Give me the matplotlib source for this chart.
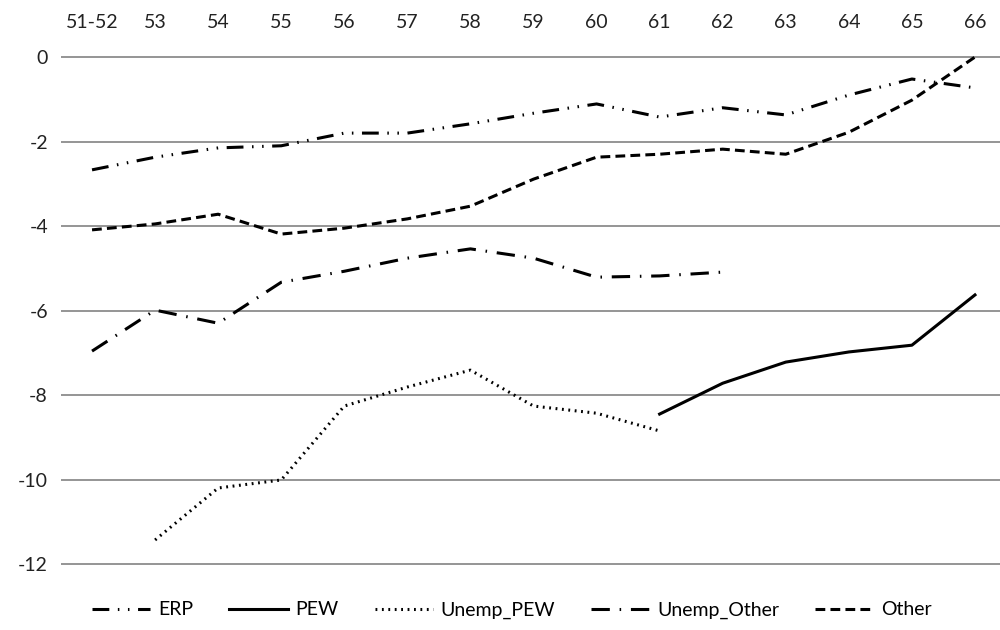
import numpy as np
import matplotlib
matplotlib.use("Agg")
import matplotlib.pyplot as plt

plt.rcParams["font.family"] = ["Lato", "DejaVu Sans"]

years = ["51-52", "53", "54", "55", "56", "57", "58", "59", "60", "61", "62", "63", "64", "65", "66"]

erp = [-2.67, -2.37, -2.15, -2.10, -1.80, -1.80, -1.58, -1.33, -1.11, -1.42, -1.20, -1.37, -0.90, -0.52, -0.73]
other = [-4.09, -3.95, -3.72, -4.19, -4.05, -3.83, -3.53, -2.89, -2.37, -2.30, -2.18, -2.30, -1.78, -1.02, 0.0]
unemp_other = [-6.96, -5.99, -6.30, -5.33, -5.07, -4.76, -4.54, -4.76, -5.21, -5.18, -5.09,
               None, None, None, None]
unemp_pew = [None, -11.43, -10.20, -10.01, -8.26, -7.81, -7.41, -8.26, -8.43, -8.85,
             None, None, None, None, None]
pew = [None, None, None, None, None, None, None, None, None, -8.45, -7.72, -7.22, -6.98, -6.82, -5.63]


def as_array(vals):
    return np.array([np.nan if v is None else v for v in vals], dtype=float)


fig = plt.figure(figsize=(10, 6.3), dpi=100)
ylo, yhi = -13.0, 0.2
ax = fig.add_axes([0.0605, 1 - 606.3 / 630, 0.946, (yhi - ylo) * 42.25 / 630])

x = np.arange(len(years))
lw = 2.2
ax.plot(x, as_array(erp), color="black", lw=lw, label="ERP",
        linestyle=(0, (5.5, 2.8, 0.5, 2.8, 0.5, 2.8)))
ax.plot(x, as_array(pew), color="black", lw=lw, label="PEW", linestyle="-")
ax.plot(x, as_array(unemp_pew), color="black", lw=lw, label="Unemp_PEW",
        linestyle=(0, (0.6, 1.5)))
ax.plot(x, as_array(unemp_other), color="black", lw=lw, label="Unemp_Other",
        linestyle=(0, (6.0, 3.2, 0.5, 3.2)))
ax.plot(x, as_array(other), color="black", lw=lw, label="Other",
        linestyle=(0, (3.2, 1.7)))

ax.set_xlim(-0.5, len(years) - 0.5)
ax.set_ylim(ylo, yhi)
ax.set_yticks(np.arange(-12, 1, 2))
ax.set_yticklabels([str(v) for v in range(-12, 1, 2)], fontsize=14)
ax.set_xticks(x)
ax.set_xticklabels(years, fontsize=14)
ax.xaxis.tick_top()
ax.tick_params(axis="both", length=0, colors="#222222")
ax.tick_params(axis="x", pad=13)
ax.tick_params(axis="y", pad=9)
for s in ax.spines.values():
    s.set_visible(False)
for v in range(-12, 1, 2):
    ax.axhline(v, color="#8c8c8c", lw=1.3, zorder=0)

fig.legend(loc="center", bbox_to_anchor=(0.512, 1 - 610 / 630), ncol=5, frameon=False,
           fontsize=14, handlelength=3.0, handletextpad=0.4, columnspacing=1.85)

fig.savefig("out.png", dpi=100)
